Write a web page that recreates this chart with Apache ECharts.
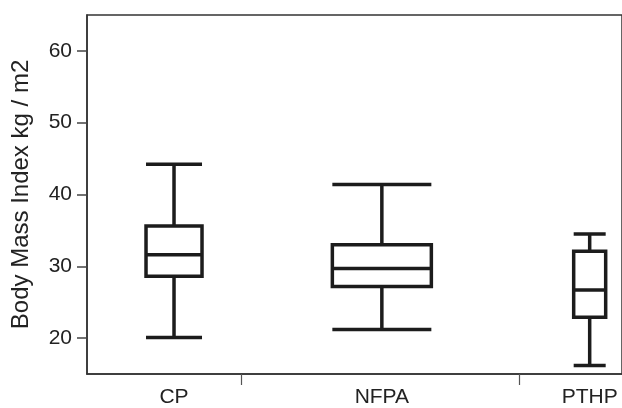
<!DOCTYPE html>
<html><head><meta charset="utf-8">
<script src="https://cdn.jsdelivr.net/npm/echarts@6/dist/echarts.min.js"></script>
<style>html,body{margin:0;padding:0;background:#fff}#c{width:622px;height:408px}</style>
</head><body><div id="c"></div>
<script>
// Categories and five-number summaries [min, Q1, median, Q3, max]
const categories = ['CP', 'NFPA', 'PTHP'];
const cpBox   = [20.1, 28.6, 31.6, 35.6, 44.2];
const nfpaBox = [21.2, 27.2, 29.7, 33.0, 41.4];
const pthpBox = [16.2, 22.9, 26.7, 32.1, 34.5];
const yTicks = [20, 30, 40, 50, 60];
const yTitle = 'Body Mass Index kg / m2';

const boxes = [cpBox, nfpaBox, pthpBox];
const boxWidths = [56, 99, 32];
const XMIN = -0.4187, XMAX = 2.1555;
const FONT = '"Liberation Sans", Arial, Helvetica, sans-serif';
const INK = '#1c1c1c';

const chart = echarts.init(document.getElementById('c'), null, {renderer: 'canvas'});

const xAxes = [0, 1, 2].map(i => ({
  type: 'value', min: XMIN, max: XMAX, gridIndex: 0,
  show: i === 0,
  splitLine: {show: false},
  axisLine: {show: true, onZero: false, lineStyle: {color: '#333', width: 1.5}},
  axisTick: {show: true, customValues: [0.323, 1.663], length: 11, inside: false,
             lineStyle: {color: '#555', width: 1.2}},
  axisLabel: {show: true, customValues: [0, 1, 2], margin: 13,
              formatter: v => categories[Math.round(v)] || '',
              color: '#222', fontSize: 21, fontFamily: FONT}
}));

const series = boxes.map((b, i) => ({
  type: 'boxplot',
  xAxisIndex: i, yAxisIndex: 0,
  boxWidth: [boxWidths[i], boxWidths[i]],
  data: [[i].concat(b)],
  itemStyle: {color: '#fff', borderColor: INK, borderWidth: 3.5},
  emphasis: {disabled: true},
  silent: true
}));

chart.setOption({
  animation: false,
  backgroundColor: '#fff',
  grid: {left: 87, top: 15, right: -3, bottom: 32, show: true,
         borderColor: '#333', borderWidth: 1.5, backgroundColor: 'transparent'},
  xAxis: xAxes,
  yAxis: {
    type: 'value', min: 15, max: 65,
    name: yTitle, nameLocation: 'middle', nameGap: 54,
    nameTextStyle: {color: '#222', fontSize: 24, fontFamily: FONT},
    splitLine: {show: false},
    axisLine: {show: true, onZero: false, lineStyle: {color: '#333', width: 1.5}},
    axisTick: {show: true, customValues: yTicks, length: 10, lineStyle: {color: '#444', width: 1.5}},
    axisLabel: {show: true, customValues: yTicks, margin: 15, color: '#222', fontSize: 21, fontFamily: FONT}
  },
  series: series
});
</script></body></html>
